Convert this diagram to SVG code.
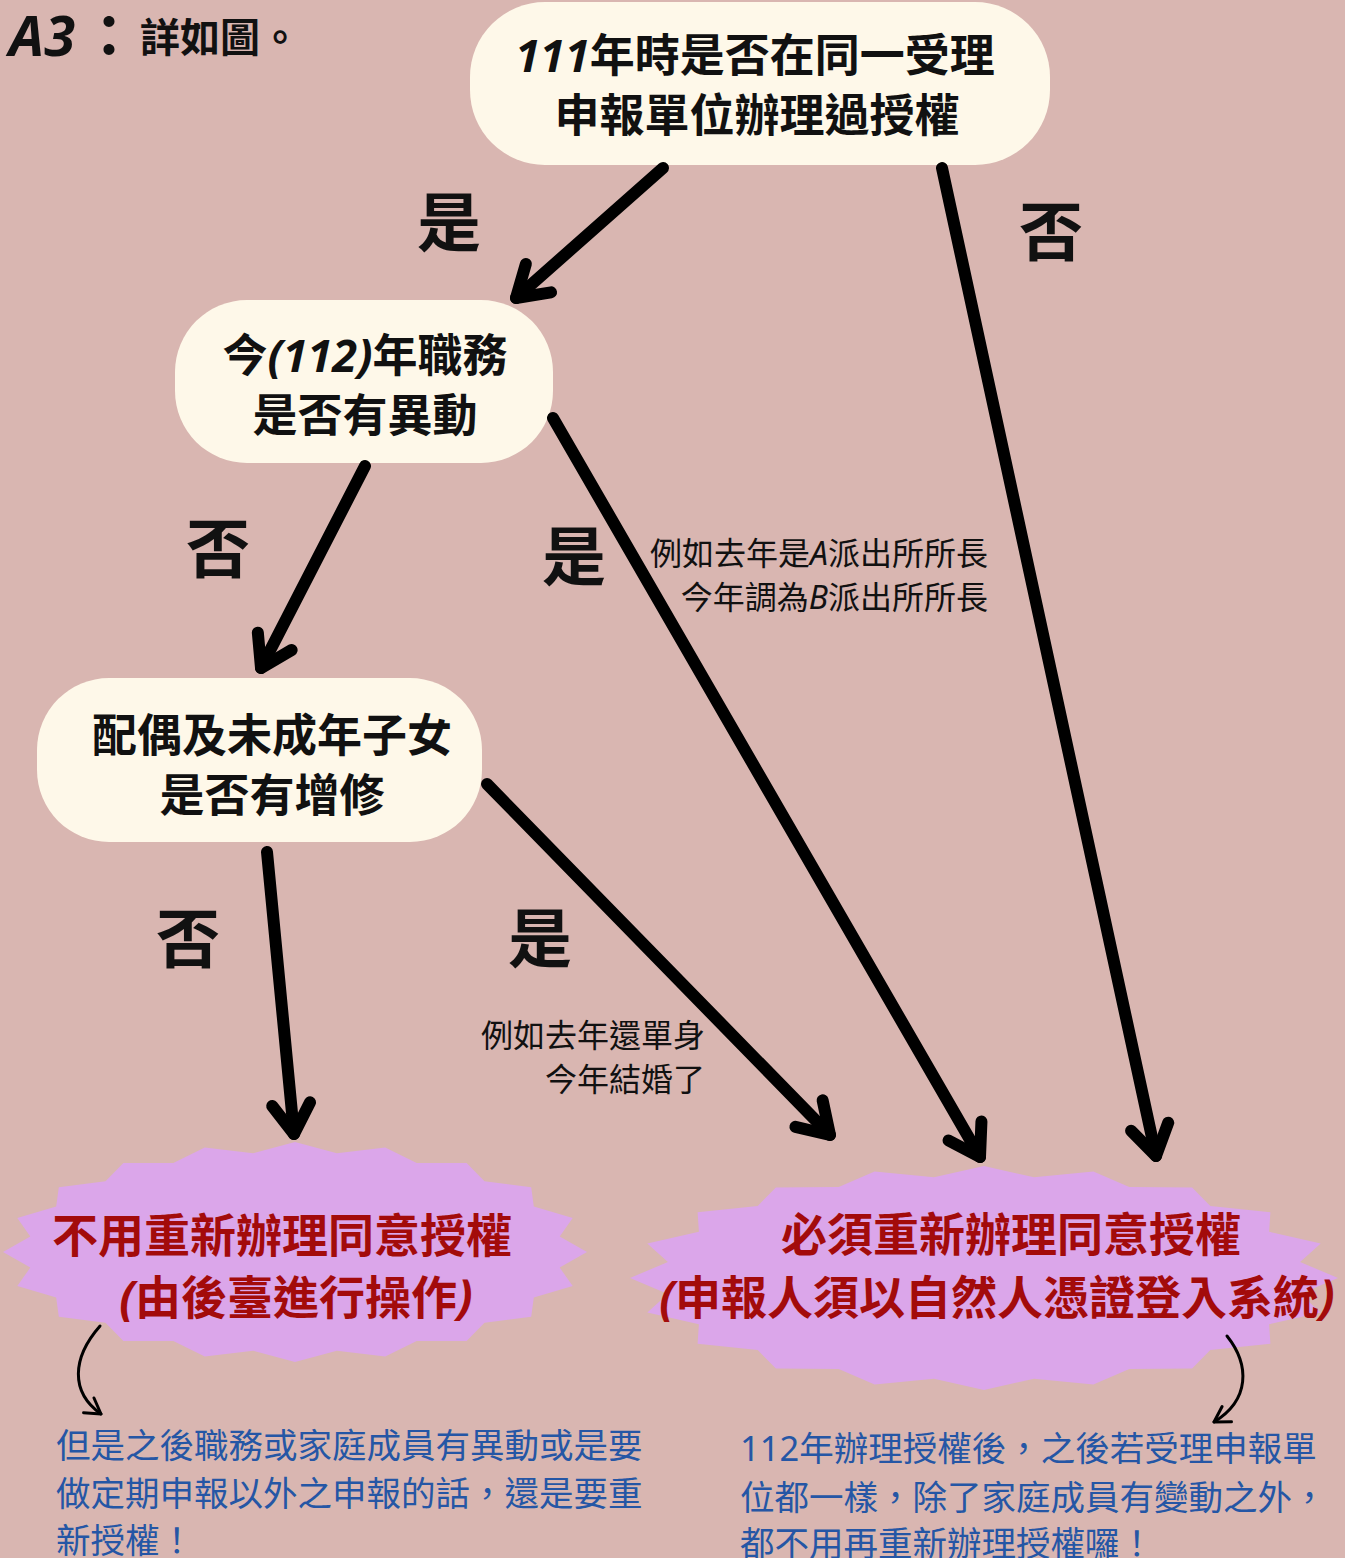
<svg xmlns="http://www.w3.org/2000/svg" width="1345" height="1558" viewBox="0 0 1345 1558">
<defs>
<style>
.bg{fill:#d9b6b1}
.node{fill:#fef8e9}
.burst{fill:#dba6ea}
.t{font-family:'Noto Sans','Noto Sans CJK TC',sans-serif}
.q{font-size:45px;font-weight:700;fill:#111;text-anchor:middle}
.lbl{font-size:64px;font-weight:700;fill:#111;text-anchor:middle}
.note{font-size:32px;font-weight:400;fill:#111;text-anchor:end}
.res{font-size:46px;font-weight:700;fill:#a30b0b;text-anchor:middle}
.blue{font-size:34.5px;font-weight:400;fill:#2556a5}
.i{font-style:italic}
.thick{fill:none;stroke:#000;stroke-width:12;stroke-linecap:round;marker-end:url(#ah)}
.thin{fill:none;stroke:#000;stroke-width:3;stroke-linecap:round;marker-end:url(#ahs)}
</style>
<marker id="ah" markerUnits="userSpaceOnUse" viewBox="-40 -30 50 60" markerWidth="50" markerHeight="60" refX="0" refY="0" orient="auto" overflow="visible">
<path d="M-30,-19 L0,0 L-30,19" fill="none" stroke="#000" stroke-width="12" stroke-linecap="round" stroke-linejoin="round"/>
</marker>
<marker id="ahs" markerUnits="userSpaceOnUse" viewBox="-20 -12 24 24" markerWidth="24" markerHeight="24" refX="0" refY="0" orient="auto" overflow="visible">
<path d="M-15,-9 L0,0 L-15,9" fill="none" stroke="#000" stroke-width="3" stroke-linecap="round" stroke-linejoin="round"/>
</marker>
</defs>
<rect class="bg" x="0" y="0" width="1345" height="1558"/>

<g id="title" class="t">
<text x="9" y="56" font-size="56" font-weight="700" font-style="italic" fill="#111">A3</text>
<text x="80" y="57" font-size="58" font-weight="700" fill="#111">：</text>
<text x="140" y="52" font-size="40" font-weight="700" fill="#111">詳如圖。</text>
</g>

<g id="node-q1">
<rect class="node" x="470" y="2" width="580" height="163" rx="75"/>
<text class="t q" x="755" y="72"><tspan class="i">111</tspan>年時是否在同一受理</text>
<text class="t q" x="757" y="132">申報單位辦理過授權</text>
</g>

<g id="node-q2">
<rect class="node" x="175" y="300" width="378" height="163" rx="72"/>
<text class="t q" x="365" y="372">今<tspan class="i">(112)</tspan>年職務</text>
<text class="t q" x="365" y="432">是否有異動</text>
</g>

<g id="node-q3">
<rect class="node" x="37" y="678" width="445" height="164" rx="72"/>
<text class="t q" x="272" y="752">配偶及未成年子女</text>
<text class="t q" x="272" y="812">是否有增修</text>
</g>

<g id="node-no-renew">
<polygon class="burst" points="295,1142 336.9,1153.2 385.2,1147.4 416.7,1162.9 466.6,1163 484.5,1181.3 531.2,1187.3 533.8,1206.6 572.7,1218 559.7,1236.4 587,1252 559.7,1267.6 572.7,1286 533.8,1297.4 531.2,1316.7 484.5,1322.7 466.6,1341 416.7,1341.1 385.2,1356.6 336.9,1350.8 295,1362 253.1,1350.8 204.8,1356.6 173.3,1341.1 123.4,1341 105.5,1322.7 58.8,1316.7 56.2,1297.4 17.3,1286 30.3,1267.6 3,1252 30.3,1236.4 17.3,1218 56.2,1206.6 58.8,1187.3 105.5,1181.3 123.4,1163 173.3,1162.9 204.8,1147.4 253.1,1153.2"/>
<text class="t res" x="282" y="1252">不用重新辦理同意授權</text>
<text class="t res" x="296" y="1314"><tspan class="i">(</tspan>由後臺進行操作<tspan class="i">)</tspan></text>
</g>

<g id="node-renew">
<polygon class="burst" points="984,1166 1034,1177.3 1093.4,1171.5 1129.3,1187.1 1192.1,1187.4 1210.3,1205.9 1270.4,1212.2 1269.1,1231.7 1320.7,1243.4 1300.1,1262 1338,1278 1300.1,1294 1320.7,1312.6 1269.1,1324.3 1270.4,1343.8 1210.3,1350.1 1192.1,1368.6 1129.3,1368.9 1093.4,1384.5 1034,1378.7 984,1390 934,1378.7 874.6,1384.5 838.7,1368.9 775.9,1368.6 757.7,1350.1 697.6,1343.8 698.9,1324.3 647.3,1312.6 667.9,1294 630,1278 667.9,1262 647.3,1243.4 698.9,1231.7 697.6,1212.2 757.7,1205.9 775.9,1187.4 838.7,1187.1 874.6,1171.5 934,1177.3"/>
<text class="t res" x="1011" y="1251">必須重新辦理同意授權</text>
<text class="t res" x="997" y="1314" font-size="47.5"><tspan class="i">(</tspan>申報人須以自然人憑證登入系統<tspan class="i">)</tspan></text>
</g>

<g id="connectors">
<path class="thick" d="M663,168 L516,298"/>
<path class="thick" d="M942,168 L1156,1156"/>
<path class="thick" d="M553,418 L980,1157"/>
<path class="thick" d="M365,466 L261,668"/>
<path class="thick" d="M487,784 L830,1135"/>
<path class="thick" d="M267,852 L294,1134"/>
<path class="thin" d="M100,1326 C72,1358 70,1392 101,1414"/>
<path class="thin" d="M1227,1336 C1250,1365 1250,1400 1214,1422"/>
</g>

<g id="labels" class="t">
<text class="lbl" x="449" y="246">是</text>
<text class="lbl" x="1051" y="255">否</text>
<text class="lbl" x="218" y="572">否</text>
<text class="lbl" x="574" y="580">是</text>
<text class="lbl" x="188" y="962">否</text>
<text class="lbl" x="540" y="962">是</text>
<text class="note" x="988" y="565">例如去年是<tspan class="i">A</tspan>派出所所長</text>
<text class="note" x="988" y="609">今年調為<tspan class="i">B</tspan>派出所所長</text>
<text class="note" x="705" y="1047">例如去年還單身</text>
<text class="note" x="705" y="1091">今年結婚了</text>
</g>

<g id="notes" class="t">
<text class="blue" x="56" y="1458">但是之後職務或家庭成員有異動或是要</text>
<text class="blue" x="56" y="1506">做定期申報以外之申報的話，還是要重</text>
<text class="blue" x="56" y="1553">新授權！</text>
<text class="blue" x="740" y="1461">112年辦理授權後，之後若受理申報單</text>
<text class="blue" x="740" y="1510">位都一樣，除了家庭成員有變動之外，</text>
<text class="blue" x="740" y="1556">都不用再重新辦理授權囉！</text>
</g>
</svg>
